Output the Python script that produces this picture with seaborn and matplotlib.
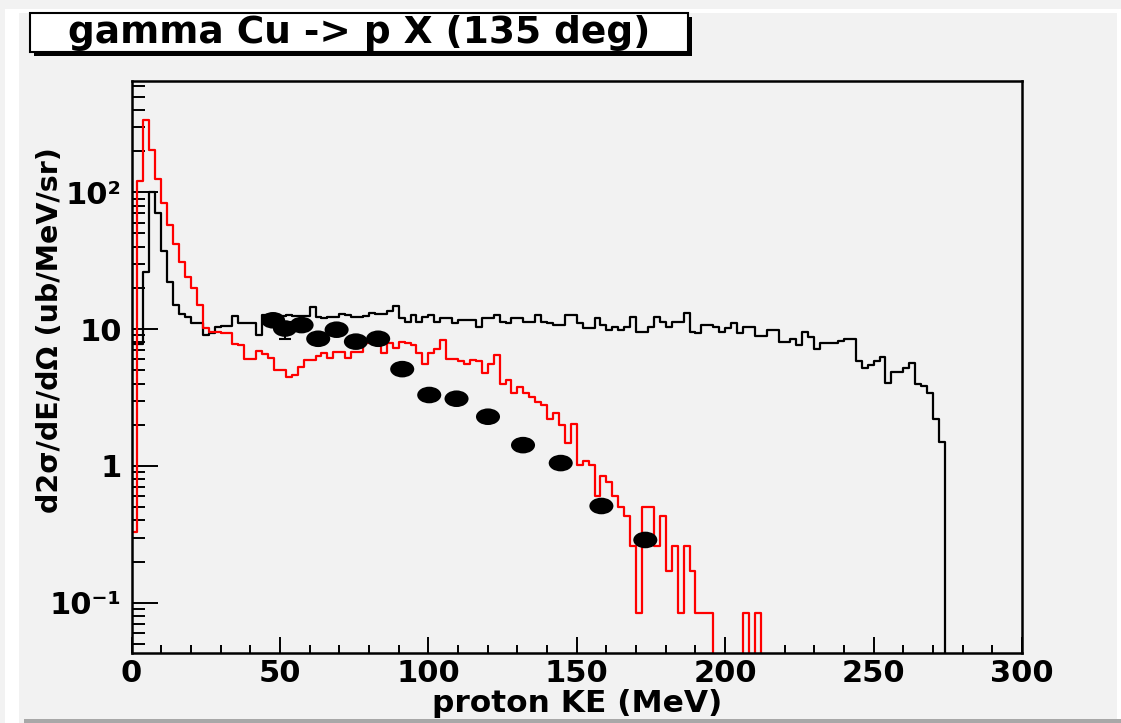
import numpy as np
import pandas as pd
import matplotlib
matplotlib.use('Agg')
import matplotlib.pyplot as plt
import seaborn as sns
from matplotlib.patches import Rectangle
from matplotlib.path import Path
from matplotlib.transforms import Affine2D
from matplotlib.ticker import FixedLocator, MultipleLocator, LogLocator, NullFormatter

# 2 MeV bins, 0 - 300 MeV
bin_edges = np.arange(0, 302, 2)

# black histogram (model 1)
black_vals = [
    7.8, 7.8, 26, 100, 70, 37, 22, 15, 13, 12.2,
    11, 11, 9.1, 9.3, 10.3, 10.5, 10.5, 12.4, 11, 11,
    11, 9.1, 12.6, 12.4, 12.3, 12.5, 12.7, 12.4, 12.4, 12.4,
    14.5, 12.3, 12.0, 12.3, 12.3, 12.9, 12.7, 12.2, 12.2, 12.4,
    13.2, 12.9, 12.9, 13.6, 14.7, 12.0, 11.3, 12.7, 11.3, 12.3,
    12.7, 11.3, 12.0, 12.0, 11.0, 11.6, 11.6, 11.6, 10.4, 12.0,
    12.0, 12.7, 11.3, 11.0, 12.0, 12.0, 11.3, 11.3, 12.7, 11.3,
    11.0, 10.7, 10.7, 12.7, 12.7, 11.0, 10.2, 10.2, 12.0, 10.7,
    9.9, 10.4, 9.9, 10.4, 12.3, 9.5, 9.5, 10.4, 12.3, 11.3,
    10.4, 11.3, 11.3, 13.2, 9.5, 9.4, 10.7, 10.7, 10.4, 9.6,
    10.2, 11.0, 9.4, 10.3, 10.4, 8.9, 8.9, 9.9, 9.9, 8.0,
    8.0, 8.4, 7.7, 9.5, 8.7, 7.1, 7.9, 7.9, 7.9, 8.2,
    8.4, 8.4, 5.8, 5.2, 5.5, 5.8, 6.3, 4.05, 4.9, 4.9,
    5.2, 5.65, 4.0, 3.84, 3.4, 2.2, 1.5, 0, 0, 0,
    0, 0, 0, 0, 0, 0, 0, 0, 0, 0,
]

# red histogram (model 2)
red_vals = [
    0.33, 120, 338, 203, 126, 84, 58, 42, 31, 24,
    20, 15, 10.2, 9.6, 9.6, 9.4, 9.3, 7.8, 7.6, 6.0,
    6.0, 6.9, 6.6, 6.1, 5.0, 5.0, 4.5, 4.6, 5.3, 5.9,
    5.9, 6.4, 6.7, 6.1, 6.8, 6.8, 6.1, 6.8, 6.8, 7.9,
    8.1, 8.1, 6.7, 7.9, 7.3, 8.1, 7.9, 7.6, 6.7, 5.6,
    6.7, 7.2, 8.3, 6.0, 6.0, 5.8, 5.6, 5.9, 5.8, 4.75,
    5.6, 6.5, 4.0, 4.24, 3.4, 3.8, 3.4, 3.2, 2.95, 2.8,
    2.2, 2.45, 2.0, 1.47, 2.02, 1.02, 1.08, 1.02, 0.60, 0.845,
    0.77, 0.6, 0.505, 0.43, 0.26, 0.084, 0.505, 0.505, 0.26, 0.43,
    0.17, 0.26, 0.084, 0.26, 0.17, 0.084, 0.084, 0.084, 0, 0,
    0, 0, 0, 0.084, 0, 0.084, 0, 0, 0, 0,
    0, 0, 0, 0, 0, 0, 0, 0, 0, 0,
    0, 0, 0, 0, 0, 0, 0, 0, 0, 0,
    0, 0, 0, 0, 0, 0, 0, 0, 0, 0,
    0, 0, 0, 0, 0, 0, 0, 0, 0, 0,
]

# measured points
data_ke = [47.7, 51.7, 57.3, 62.9, 69.1, 75.6, 83.1, 91.2, 100.3, 109.5,
           120.1, 131.9, 144.6, 158.3, 173.1]
data_xs = [11.6, 10.1, 10.7, 8.5, 9.9, 8.1, 8.5, 5.1, 3.3, 3.1,
           2.29, 1.42, 1.05, 0.51, 0.288]
data_err_lo = [0, 1.6, 0, 0, 0, 0, 0, 0, 0, 0, 0, 0, 0, 0, 0]
data_err_hi = [0, 1.2, 0, 0, 0, 0, 0, 0, 0, 0, 0, 0, 0, 0, 0]

y_ticks = [0.1, 1, 10, 100]
y_ticklabels = ['10\u207b\u00b9', '1', '10', '10\u00b2']

# step outlines: one point per bin edge, last value repeated
step_df = pd.DataFrame({
    'ke': bin_edges,
    'black': black_vals + black_vals[-1:],
    'red': red_vals + red_vals[-1:],
})
floor = 1e-4  # empty bins drop below the frame
step_df['black'] = step_df['black'].clip(lower=floor)
step_df['red'] = step_df['red'].clip(lower=floor)

W, H = 1121, 723
bg = '#f2f2f2'

sns.set_style('ticks')
plt.rcParams['font.family'] = ['DejaVu Sans']
plt.rcParams['font.weight'] = 'bold'
plt.rcParams['text.color'] = 'black'
plt.rcParams['axes.labelcolor'] = 'black'
plt.rcParams['xtick.color'] = 'black'
plt.rcParams['ytick.color'] = 'black'

fig = plt.figure(figsize=(W / 100, H / 100), dpi=100)
fig.patch.set_facecolor(bg)


def px_rect(x0, y0, x1, y1, **kw):
    # rectangle given in image pixel coords (origin top-left)
    r = Rectangle((x0 / W, 1 - y1 / H), (x1 - x0) / W, (y1 - y0) / H,
                  transform=fig.transFigure, **kw)
    fig.add_artist(r)
    return r


# canvas bevel
px_rect(5, 9, 1121, 13, facecolor='white', edgecolor='none', zorder=-9)
px_rect(5, 9, 19, 723, facecolor='white', edgecolor='none', zorder=-9)
px_rect(1117, 9, 1121, 723, facecolor='white', edgecolor='none', zorder=-9)
px_rect(24, 719, 1121, 723, facecolor='#a8a8a8', edgecolor='none', zorder=-9)

ax = fig.add_axes([131.5 / W, (H - 653) / H, (1022 - 131.5) / W, (653 - 81) / H])
ax.set_facecolor(bg)

sns.lineplot(data=step_df, x='ke', y='black', drawstyle='steps-post', estimator=None,
             sort=False, color='black', linewidth=1.6, ax=ax)
sns.lineplot(data=step_df, x='ke', y='red', drawstyle='steps-post', estimator=None,
             sort=False, color='#ff0000', linewidth=1.6, ax=ax)

ax.set_yscale('log')

ell = Path.unit_circle().transformed(Affine2D().scale(1.45, 1.0))
err_idx = [i for i in range(len(data_ke)) if data_err_lo[i] > 0]
ax.errorbar([data_ke[i] for i in err_idx], [data_xs[i] for i in err_idx],
            yerr=[[data_err_lo[i] for i in err_idx], [data_err_hi[i] for i in err_idx]],
            fmt='none', ecolor='black', elinewidth=1.5, capsize=4, capthick=1.5, zorder=4)
sns.scatterplot(x=data_ke, y=data_xs, marker=ell, s=300, color='black',
                edgecolor='none', ax=ax, zorder=5, legend=False)

ax.set_xlim(0, 300)
ax.set_ylim(0.043, 650)

ax.xaxis.set_major_locator(MultipleLocator(50))
ax.xaxis.set_minor_locator(MultipleLocator(10))
ax.yaxis.set_major_locator(FixedLocator(y_ticks))
ax.set_yticklabels(y_ticklabels)
ax.yaxis.set_minor_locator(LogLocator(base=10, subs=np.arange(2, 10)))
ax.yaxis.set_minor_formatter(NullFormatter())

ax.tick_params(axis='x', which='major', direction='in', length=11.5, width=1.4,
               labelsize=22, pad=4, top=False)
ax.tick_params(axis='x', which='minor', direction='in', length=5.8, width=1.4, top=False)
ax.tick_params(axis='y', which='major', direction='in', length=19, width=1.4,
               labelsize=22, pad=7, right=False)
ax.tick_params(axis='y', which='minor', direction='in', length=9.5, width=1.4, right=False)
for lab in ax.get_xticklabels() + ax.get_yticklabels():
    lab.set_fontweight('bold')

for sp in ax.spines.values():
    sp.set_visible(True)
    sp.set_linewidth(1.8)
    sp.set_color('black')

ax.set_xlabel('proton KE (MeV)', fontsize=22.5, fontweight='bold')
ax.xaxis.set_label_coords(0.5, -(689 - 653) / 572)
ax.set_ylabel('d2\u03c3/dE/d\u03a9 (ub/MeV/sr)', fontsize=20.5, fontweight='bold')
ax.yaxis.set_label_coords(-(131.5 - 64) / 890.5, (653 - 330) / 572)

# title box with shadow
px_rect(34, 17, 692, 56, facecolor='black', edgecolor='none', zorder=1)
px_rect(30, 13, 688, 52, facecolor='white', edgecolor='black', linewidth=1.5, zorder=2)
fig.text(359 / W, 1 - 33 / H, 'gamma Cu -> p X (135 deg)', fontsize=27,
         fontweight='bold', ha='center', va='center', zorder=3)

fig.savefig('out.png', dpi=100, facecolor=fig.get_facecolor())
